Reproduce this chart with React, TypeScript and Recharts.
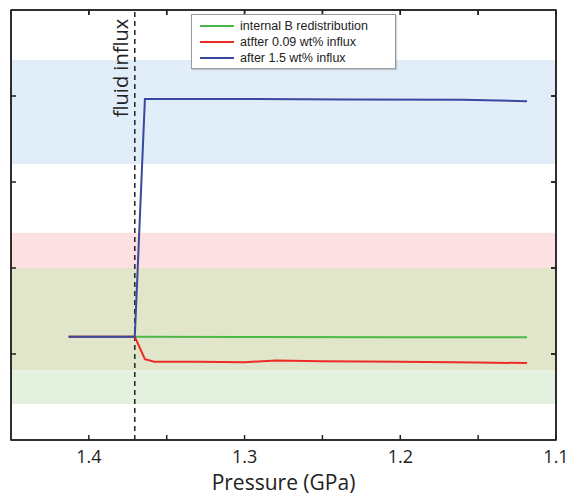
import React from 'react';
import {
  LineChart,
  Line,
  XAxis,
  YAxis,
  ReferenceArea,
  ReferenceLine,
  Legend,
  Label
} from 'recharts';

// pressure (GPa) / value pairs for each run
const redistP = [1.413, 1.3705, 1.3, 1.2, 1.1186];
const redistV = [1.2, 1.2, 1.198, 1.196, 1.195];

const lowInfluxP = [1.413, 1.3705, 1.364, 1.358, 1.33, 1.3, 1.28, 1.25, 1.2, 1.15, 1.1186];
const lowInfluxV = [1.2, 1.2, 0.94, 0.91, 0.91, 0.905, 0.925, 0.915, 0.91, 0.9, 0.895];

const highInfluxP = [1.413, 1.3705, 1.364, 1.3, 1.235, 1.16, 1.1186];
const highInfluxV = [1.2, 1.2, 3.965, 3.965, 3.96, 3.955, 3.94];

const fluidInfluxP = 1.3705;

// shaded ranges [from, to, colour]
const bands: [number, number, string][] = [
  [3.21, 4.42, '#e1edf8'],
  [2.0, 2.41, '#fde0e1'],
  [0.81, 2.0, '#e1e6cb'],
  [0.42, 0.81, '#e4f1de']
];

const xDomain: [number, number] = [1.1, 1.45];
const yDomain: [number, number] = [0, 5];
const xTicks = [1.1, 1.15, 1.2, 1.25, 1.3, 1.35, 1.4];
const yTicks = [1, 2, 3, 4];

// ~5px inward tick length, in axis units
const TICK_X = 0.0032;
const TICK_Y = 0.058;

const toPoints = (p: number[], v: number[]) => p.map((x, i) => ({ p: x, v: v[i] }));

// green run is tied to the mirrored top/right axes (same domains)
const series = [
  { name: 'internal B redistribution', color: '#4cb848', data: toPoints(redistP, redistV), xId: 'top', yId: 'right' },
  { name: 'atfter 0.09 wt% influx', color: '#ee2a24', data: toPoints(lowInfluxP, lowInfluxV), xId: 'bottom', yId: 'left' },
  { name: 'after 1.5 wt% influx', color: '#3a489f', data: toPoints(highInfluxP, highInfluxV), xId: 'bottom', yId: 'left' }
];

const AXIS = '#222';
const blank = () => '';
const tenths = (v: number) =>
  Math.abs(v * 10 - Math.round(v * 10)) < 1e-6 ? v.toFixed(1) : '';

function LegendBox() {
  return (
    <div
      style={{
        background: '#fff',
        border: '1px solid #999',
        boxShadow: '1px 1px 1px rgba(0,0,0,0.15)',
        width: 203,
        height: 50,
        paddingTop: 3,
        boxSizing: 'content-box',
        fontFamily: '"Liberation Sans", Arial, sans-serif',
        fontSize: 12.5,
        color: '#222'
      }}
    >
      {series.map((s) => (
        <div key={s.name} style={{ display: 'flex', alignItems: 'center', height: 16 }}>
          <span
            style={{
              display: 'inline-block',
              width: 34,
              height: 2,
              background: s.color,
              marginLeft: 8,
              marginRight: 6
            }}
          />
          <span>{s.name}</span>
        </div>
      ))}
    </div>
  );
}

function InfluxLabel(props: any) {
  const vb = props.viewBox || {};
  const x = vb.x - 7;
  const y = vb.y + 58;
  return (
    <text
      x={x}
      y={y}
      transform={`rotate(-90 ${x} ${y})`}
      textAnchor="middle"
      fontFamily='"Open Sans", sans-serif'
      fontSize={20}
      fill="#222"
    >
      fluid influx
    </text>
  );
}

export default function App() {
  return (
    <div style={{ position: 'absolute', left: 0, top: 0 }}>
      <LineChart width={582} height={497} margin={{ top: 0, right: 0, bottom: 0, left: 0 }}>
        <XAxis
          xAxisId="bottom"
          type="number"
          dataKey="p"
          domain={xDomain}
          reversed
          allowDataOverflow
          ticks={xTicks}
          tickFormatter={tenths}
          height={57}
          tickSize={-5}
          tickMargin={15}
          stroke={AXIS}
          strokeWidth={1.5}
          tick={{ fill: '#222', fontSize: 18, fontFamily: '"Open Sans", sans-serif' }}
        >
          <Label
            value="Pressure (GPa)"
            position="insideBottom"
            offset={7}
            fill="#222"
            fontSize={21}
            fontFamily='"Open Sans", sans-serif'
          />
        </XAxis>
        <XAxis
          xAxisId="top"
          orientation="top"
          type="number"
          dataKey="p"
          domain={xDomain}
          reversed
          allowDataOverflow
          ticks={xTicks}
          tickFormatter={blank}
          height={10}
          tickSize={-5}
          stroke={AXIS}
          strokeWidth={1.5}
        />
        <YAxis
          yAxisId="left"
          type="number"
          domain={yDomain}
          allowDataOverflow
          ticks={yTicks}
          tickFormatter={blank}
          width={11}
          tickSize={-5}
          stroke={AXIS}
          strokeWidth={1.5}
        />
        <YAxis
          yAxisId="right"
          orientation="right"
          type="number"
          domain={yDomain}
          allowDataOverflow
          ticks={yTicks}
          tickFormatter={blank}
          width={26}
          tickSize={-5}
          stroke={AXIS}
          strokeWidth={1.5}
        />
        {bands.map(([y1, y2, fill]) => (
          <ReferenceArea
            key={fill}
            xAxisId="bottom"
            yAxisId="left"
            y1={y1}
            y2={y2}
            fill={fill}
            fillOpacity={1}
            stroke="none"
          />
        ))}
        {/* closed frame plus inward ticks on top and right edges */}
        <ReferenceArea
          xAxisId="bottom"
          yAxisId="left"
          x1={xDomain[0]}
          x2={xDomain[1]}
          y1={yDomain[0]}
          y2={yDomain[1]}
          fill="none"
          fillOpacity={0}
          stroke={AXIS}
          strokeWidth={1.5}
          ifOverflow="visible"
        />
        {xTicks.map((t) => (
          <ReferenceLine
            key={`tx-${t}`}
            xAxisId="bottom"
            yAxisId="left"
            segment={[{ x: t, y: yDomain[1] }, { x: t, y: yDomain[1] - TICK_Y }]}
            stroke={AXIS}
            strokeWidth={1.5}
            ifOverflow="visible"
          />
        ))}
        {yTicks.map((t) => (
          <ReferenceLine
            key={`ty-${t}`}
            xAxisId="bottom"
            yAxisId="left"
            segment={[{ x: xDomain[0], y: t }, { x: xDomain[0] + TICK_X, y: t }]}
            stroke={AXIS}
            strokeWidth={1.5}
            ifOverflow="visible"
          />
        ))}
        <ReferenceLine
          xAxisId="bottom"
          yAxisId="left"
          x={fluidInfluxP}
          stroke="#222"
          strokeWidth={1.5}
          strokeDasharray="5 4"
          label={<InfluxLabel />}
        />
        {series.map((s) => (
          <Line
            key={s.name}
            xAxisId={s.xId}
            yAxisId={s.yId}
            data={s.data}
            dataKey="v"
            name={s.name}
            stroke={s.color}
            strokeWidth={2}
            dot={false}
            type="linear"
            isAnimationActive={false}
          />
        ))}
        <Legend
          layout="vertical"
          align="center"
          verticalAlign="middle"
          content={<LegendBox />}
          wrapperStyle={{ left: 191, top: 14, width: 205, height: 53 }}
        />
      </LineChart>
    </div>
  );
}
